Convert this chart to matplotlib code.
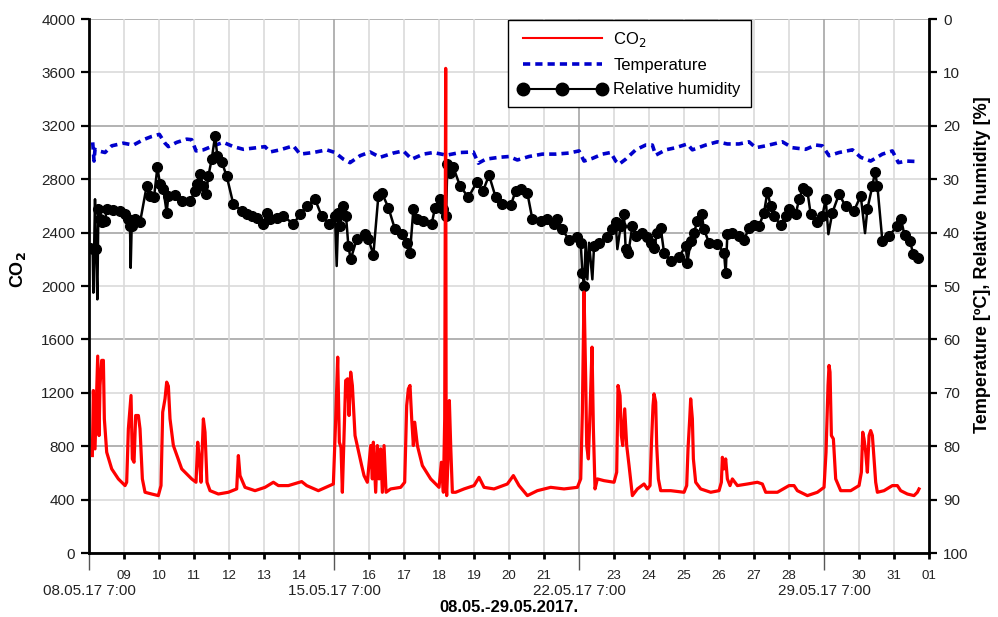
import numpy as np
import matplotlib
matplotlib.use("Agg")
from matplotlib import pyplot as plt
from matplotlib.lines import Line2D

plt.rcParams['font.family'] = ['Liberation Sans', 'DejaVu Sans']

# x in days after 08.05.17 7:00
co2_day = [0.095, 0.124, 0.171, 0.248, 0.286, 0.314, 0.362, 0.41, 0.438, 0.505,
           0.648, 0.838, 1.029, 1.076, 1.124, 1.2, 1.238, 1.286, 1.333, 1.41,
           1.457, 1.524, 1.6, 1.79, 1.98, 2.057, 2.105, 2.171, 2.219, 2.267,
           2.314, 2.41, 2.648, 2.933, 3.057, 3.105, 3.152, 3.2, 3.267, 3.314,
           3.371, 3.457, 3.695, 3.981, 4.219, 4.267, 4.314, 4.457, 4.743, 5.029,
           5.267, 5.41, 5.695, 6.076, 6.219, 6.552, 6.981, 7.048, 7.105, 7.152,
           7.2, 7.238, 7.276, 7.333, 7.39, 7.429, 7.476, 7.524, 7.6, 7.79,
           7.857, 7.952, 8.048, 8.095, 8.124, 8.19, 8.238, 8.286, 8.333, 8.381,
           8.429, 8.486, 8.619, 8.905, 9.019, 9.076, 9.124, 9.171, 9.219, 9.267,
           9.305, 9.381, 9.524, 9.762, 10.0, 10.067, 10.124, 10.162, 10.19, 10.205,
           10.219, 10.267, 10.295, 10.333, 10.381, 10.476, 10.714, 11.0, 11.143, 11.286,
           11.571, 11.952, 12.124, 12.286, 12.524, 12.81, 13.19, 13.571, 13.952, 14.048,
           14.095, 14.143, 14.19, 14.219, 14.267, 14.314, 14.371, 14.41, 14.457, 14.524,
           14.714, 15.0, 15.076, 15.114, 15.171, 15.21, 15.248, 15.305, 15.362, 15.429,
           15.524, 15.667, 15.857, 15.952, 16.029, 16.067, 16.114, 16.143, 16.19, 16.219,
           16.267, 16.333, 16.619, 17.0, 17.076, 17.114, 17.162, 17.19, 17.238, 17.267,
           17.333, 17.476, 17.762, 18.0, 18.067, 18.095, 18.143, 18.19, 18.238, 18.314,
           18.381, 18.524, 18.81, 19.095, 19.238, 19.333, 19.667, 20.0, 20.143, 20.238,
           20.524, 20.81, 21.0, 21.057, 21.114, 21.143, 21.171, 21.21, 21.267, 21.333,
           21.476, 21.762, 22.0, 22.067, 22.105, 22.143, 22.19, 22.238, 22.286, 22.333,
           22.381, 22.429, 22.476, 22.524, 22.714, 22.952, 23.095, 23.19, 23.381, 23.571,
           23.667, 23.714]
co2_val = [730, 1217, 780, 1475, 880, 1255, 1443, 1443, 1005, 755,
           630, 555, 505, 530, 930, 1180, 705, 680, 1030, 1030,
           930, 555, 455, 442, 430, 505, 1055, 1155, 1280, 1250,
           1005, 805, 630, 555, 530, 830, 705, 530, 1005, 905,
           530, 467, 442, 455, 480, 730, 580, 492, 467, 492,
           530, 505, 505, 535, 505, 467, 517, 1005, 1467, 830,
           790, 455, 790, 1292, 1305, 1030, 1355, 1255, 880, 655,
           580, 530, 805, 555, 830, 455, 805, 555, 780, 455,
           805, 455, 480, 492, 530, 1105, 1230, 1255, 1005, 805,
           980, 805, 655, 555, 492, 680, 455, 1005, 3630, 500,
           430, 780, 1142, 805, 455, 455, 480, 505, 567, 492,
           480, 517, 580, 505, 430, 467, 492, 480, 492, 555,
           1055, 1955, 1305, 805, 705, 1055, 1542, 930, 480, 555,
           542, 530, 605, 1255, 1180, 880, 805, 1080, 805, 655,
           430, 480, 517, 480, 505, 805, 1105, 1192, 1130, 805,
           555, 467, 467, 455, 505, 780, 1005, 1155, 1005, 705,
           530, 480, 455, 467, 530, 717, 630, 705, 555, 505,
           555, 505, 517, 530, 517, 455, 455, 505, 505, 467,
           430, 455, 492, 755, 1255, 1405, 1355, 880, 855, 555,
           467, 467, 505, 605, 905, 855, 755, 605, 880, 917,
           880, 705, 530, 455, 467, 505, 505, 467, 442, 430,
           455, 480]

temp_day = [0.105, 0.143, 0.171, 0.267, 0.457, 0.648, 0.98, 1.267, 1.552, 1.79,
            2.01, 2.171, 2.267, 2.505, 2.79, 2.933, 3.057, 3.267, 3.552, 3.838,
            4.124, 4.41, 4.79, 5.029, 5.171, 5.457, 5.838, 6.029, 6.41, 6.79,
            7.029, 7.267, 7.457, 7.743, 8.029, 8.314, 8.695, 8.981, 9.219, 9.552,
            9.838, 10.219, 10.6, 10.98, 11.124, 11.333, 11.714, 12.0, 12.238, 12.571,
            12.952, 13.333, 13.714, 14.0, 14.143, 14.381, 14.667, 14.905, 15.048, 15.143,
            15.333, 15.619, 15.905, 16.095, 16.19, 16.476, 16.762, 17.095, 17.238, 17.619,
            17.952, 18.238, 18.571, 18.857, 19.048, 19.333, 19.81, 20.095, 20.476, 20.762,
            20.952, 21.143, 21.429, 21.81, 22.048, 22.333, 22.667, 22.952, 23.124, 23.35,
            23.7]
temp_val = [23.1, 26.6, 24.4, 24.7, 25.0, 23.75, 23.25, 23.6, 22.6, 22.0,
            21.6, 23.25, 23.9, 23.1, 22.5, 22.6, 24.7, 24.5, 23.75, 23.1,
            23.9, 24.4, 24.1, 23.9, 24.9, 24.5, 23.75, 25.3, 25.0, 24.5,
            25.0, 26.25, 26.9, 25.6, 24.9, 25.9, 25.1, 24.7, 26.25, 25.3,
            25.0, 25.5, 25.0, 24.9, 27.0, 26.25, 25.9, 25.75, 26.4, 25.75,
            25.3, 25.3, 25.1, 24.7, 26.6, 26.1, 25.3, 25.0, 26.6, 27.2,
            26.25, 24.5, 23.6, 23.6, 25.5, 24.5, 24.1, 23.4, 24.5, 23.6,
            23.0, 23.4, 23.4, 23.0, 24.1, 23.75, 23.0, 24.1, 24.4, 23.6,
            23.75, 25.6, 25.0, 24.5, 25.9, 26.6, 25.3, 24.7, 26.9, 26.6,
            26.7]

rh_day = [0.029, 0.105, 0.124, 0.171, 0.2, 0.238, 0.267, 0.314, 0.362, 0.457,
          0.505, 0.695, 0.886, 1.029, 1.124, 1.171, 1.19, 1.219, 1.314, 1.457,
          1.648, 1.743, 1.857, 1.952, 2.029, 2.124, 2.219, 2.267, 2.457, 2.648,
          2.886, 3.029, 3.076, 3.171, 3.267, 3.343, 3.41, 3.505, 3.6, 3.667,
          3.79, 3.933, 4.124, 4.362, 4.505, 4.648, 4.79, 4.981, 5.076, 5.171,
          5.362, 5.552, 5.838, 6.029, 6.219, 6.457, 6.648, 6.867, 7.029, 7.076,
          7.124, 7.171, 7.267, 7.343, 7.41, 7.476, 7.648, 7.886, 7.981, 8.124,
          8.267, 8.362, 8.552, 8.743, 8.933, 9.076, 9.171, 9.267, 9.362, 9.552,
          9.79, 9.886, 10.029, 10.124, 10.2, 10.238, 10.314, 10.41, 10.6, 10.838,
          11.076, 11.257, 11.429, 11.619, 11.81, 12.048, 12.19, 12.333, 12.524, 12.667,
          12.905, 13.095, 13.286, 13.381, 13.524, 13.714, 13.952, 14.048, 14.095, 14.143,
          14.19, 14.238, 14.286, 14.381, 14.429, 14.571, 14.81, 14.952, 15.048, 15.095,
          15.19, 15.286, 15.333, 15.41, 15.524, 15.619, 15.81, 15.952, 16.048, 16.143,
          16.238, 16.333, 16.429, 16.619, 16.857, 17.048, 17.095, 17.19, 17.286, 17.381,
          17.505, 17.571, 17.714, 17.952, 18.143, 18.19, 18.238, 18.381, 18.571, 18.714,
          18.857, 19.0, 19.143, 19.286, 19.381, 19.476, 19.571, 19.762, 19.905, 20.0,
          20.19, 20.286, 20.4, 20.524, 20.619, 20.81, 20.952, 21.048, 21.124, 21.238,
          21.429, 21.619, 21.857, 22.048, 22.171, 22.238, 22.381, 22.457, 22.524, 22.667,
          22.857, 23.095, 23.2, 23.3, 23.45, 23.55, 23.68]
rh_val = [42.8, 43.1, 51.25, 33.75, 43.1, 52.5, 35.6, 37.5, 38.1, 37.8,
          35.6, 35.75, 35.9, 36.6, 37.5, 38.75, 46.6, 38.75, 37.5, 38.1,
          31.25, 33.1, 33.4, 27.8, 30.9, 31.9, 36.25, 33.1, 33.0, 34.1,
          34.1, 32.2, 30.9, 29.1, 31.25, 32.8, 29.4, 26.25, 22.0, 25.6,
          26.75, 29.4, 34.7, 35.9, 36.6, 36.9, 37.2, 38.4, 36.25, 37.5,
          37.2, 36.9, 38.4, 36.6, 35.0, 33.75, 36.9, 38.4, 36.9, 46.25,
          36.25, 38.75, 35.0, 36.9, 42.5, 45.0, 41.25, 40.3, 41.25, 44.1,
          33.1, 32.5, 35.3, 39.4, 40.3, 41.9, 43.75, 35.6, 37.5, 37.8,
          38.4, 35.3, 33.75, 35.6, 36.9, 27.2, 28.75, 27.8, 31.25, 33.4,
          30.6, 32.2, 29.25, 33.4, 34.7, 34.9, 32.2, 31.9, 32.6, 37.5,
          37.8, 37.4, 38.4, 37.5, 39.4, 41.4, 40.9, 41.9, 47.5, 50.0,
          41.9, 48.75, 41.9, 48.75, 42.5, 41.9, 40.9, 39.4, 38.1, 43.1,
          38.75, 36.6, 43.1, 43.75, 38.75, 40.6, 40.0, 40.9, 41.9, 42.8,
          40.0, 39.1, 43.75, 45.3, 44.5, 42.5, 45.6, 41.6, 40.0, 37.8,
          36.6, 39.4, 41.9, 42.2, 43.75, 47.6, 40.3, 40.1, 40.6, 41.4,
          39.1, 38.6, 38.75, 36.25, 32.4, 35.0, 36.9, 38.6, 36.9, 35.6,
          36.6, 33.75, 31.6, 32.2, 36.6, 38.0, 36.9, 33.75, 40.3, 36.25,
          32.8, 35.1, 35.9, 33.1, 40.1, 35.6, 31.25, 28.6, 31.25, 41.6,
          40.6, 38.75, 37.5, 40.5, 41.5, 44.0, 44.8]

week_ticks = [0, 7, 14, 21]
week_labels = ['08.05.17 7:00', '15.05.17 7:00', '22.05.17 7:00', '29.05.17 7:00']
day_ticks = [1, 2, 3, 4, 5, 6, 8, 9, 10, 11, 12, 13, 15, 16, 17, 18, 19, 20, 22, 23, 24]
day_labels = ['09', '10', '11', '12', '13', '14', '16', '17', '18', '19', '20', '21',
              '23', '24', '25', '26', '27', '28', '30', '31', '01']
co2_ticks = list(range(0, 4001, 400))
rh_ticks = list(range(0, 101, 10))

# no marker on single-sample spikes
rh = np.array(rh_val)
spike = np.zeros(len(rh), bool)
d1 = rh[1:-1] - rh[:-2]
d2 = rh[1:-1] - rh[2:]
spike[1:-1] = (d1 * d2 > 0) & (np.minimum(abs(d1), abs(d2)) > 4)
marks = [i for i in range(len(rh)) if not spike[i]]

fig = plt.figure(figsize=(9.98, 6.17), dpi=100)
ax = fig.add_axes([0.0892, 0.1037, 0.8417, 0.8655])
ax2 = ax.twinx()
ax.set_zorder(2)
ax2.set_zorder(1)
ax.patch.set_visible(False)

# grid lives on the back axes
for v in rh_ticks:
    ax2.axhline(v, color='#a6a6a6' if v % 20 == 0 else '#dadada', lw=1.2, zorder=0)
for d in range(1, 24):
    ax2.axvline(d, color='#a6a6a6' if d in week_ticks else '#dadada', lw=1.2, zorder=0)

ax2.plot(temp_day, temp_val, color='#0000cc', lw=2.6, ls=(0, (2, 1.4)), zorder=2)
ax2.plot(rh_day, rh_val, color='black', lw=1.8, marker='o', ms=7, markevery=marks, zorder=3)
ax.plot(co2_day, co2_val, color='#ff0000', lw=2.3, zorder=3)

ax.set_xlim(0, 24)
ax.set_ylim(0, 4000)
ax2.set_ylim(100, 0)

ax.set_yticks(co2_ticks)
ax2.set_yticks(rh_ticks)
ax.set_xticks(week_ticks, week_labels)
ax.set_xticks(day_ticks, day_labels, minor=True)

ax.tick_params(axis='y', direction='out', length=6, width=1.6, labelsize=11, pad=4,
               labelcolor='#222222')
ax2.tick_params(axis='y', direction='out', length=6, width=1.6, labelsize=11, pad=4,
                labelcolor='#222222')
ax.tick_params(axis='x', which='major', length=12, width=1, color='#555555',
               labelsize=11, pad=10, labelcolor='#222222')
ax.tick_params(axis='x', which='minor', length=4.5, width=2, labelsize=9.5, pad=8,
               labelcolor='#222222')

for s in ['top', 'right']:
    ax.spines[s].set_visible(False)
for s in ['left', 'bottom']:
    ax.spines[s].set_linewidth(2)
for s in ['top', 'left', 'bottom']:
    ax2.spines[s].set_visible(False)
ax2.spines['right'].set_linewidth(2)

ax.set_ylabel(r'CO$_\mathbf{2}$', fontsize=13, fontweight='bold')
ax.yaxis.set_label_coords(-0.073, 0.53)
ax2.set_ylabel('Temperature [ºC], Relative humidity [%]', fontsize=13,
               fontweight='bold')
ax2.yaxis.set_label_coords(1.054, 0.54)
ax.set_xlabel('08.05.-29.05.2017.', fontsize=12, fontweight='bold', labelpad=2)

handles = [Line2D([], [], color='#ff0000', lw=1.5),
           Line2D([], [], color='#0000cc', lw=2.6, ls=(0, (2, 1.4))),
           Line2D([], [], color='black', lw=1.5, marker='o', ms=9)]
leg = ax.legend(handles, [r'CO$_2$', 'Temperature', 'Relative humidity'],
                loc='upper left', bbox_to_anchor=(0.499, 0.998), borderaxespad=0,
                fancybox=False, edgecolor='black', framealpha=1, fontsize=12,
                handlelength=5.3, numpoints=3, labelspacing=0.55, borderpad=0.6,
                handletextpad=0.4)
leg.get_frame().set_linewidth(1)

fig.savefig('out.png', dpi=100)
